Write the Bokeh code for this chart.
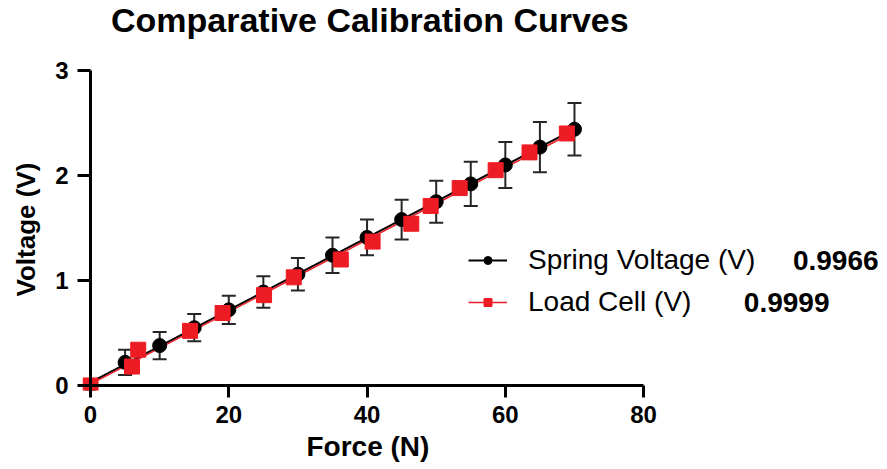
import numpy as np
from bokeh.plotting import figure
from bokeh.models import (Range1d, FixedTicker, ColumnDataSource, Whisker, TeeHead,
                          Legend, LegendItem, Label, LinearAxis, Title)
from bokeh.embed import file_html
from bokeh.resources import INLINE

# ---- data ----
title_text = "Comparative Calibration Curves"
x_label = "Force (N)"
y_label = "Voltage (V)"
x_ticks = [0, 20, 40, 60, 80]
y_ticks = [0, 1, 2, 3]

spring_name = "Spring Voltage (V)"
spring_x = [0, 5, 10, 15, 20, 25, 30, 35, 40, 45, 50, 55, 60, 65, 70]
spring_y = [0, 0.22, 0.38, 0.55, 0.72, 0.89, 1.06, 1.24, 1.41, 1.58, 1.75, 1.92, 2.10, 2.27, 2.44]
spring_err = [0, 0.12, 0.13, 0.13, 0.135, 0.15, 0.155, 0.17, 0.17, 0.19, 0.20, 0.21, 0.22, 0.24, 0.25]

load_name = "Load Cell (V)"
load_x = [0, 6.0, 6.9, 14.4, 19.1, 25.1, 29.4, 36.2, 40.8, 46.4, 49.2, 53.4, 58.6, 63.5, 68.9]
load_y = [0, 0.18, 0.34, 0.52, 0.69, 0.86, 1.03, 1.20, 1.37, 1.54, 1.71, 1.88, 2.05, 2.22, 2.40]

r2_values = ["0.9966", "0.9999"]

FONT = "Liberation Sans"
BLACK = "#000000"
RED = "#ED1C24"
ERR = "#262626"

p = figure(frame_width=801, frame_height=385,
           x_range=Range1d(-1.16, 114.7), y_range=Range1d(-0.048, 3.619),
           output_backend="svg", toolbar_location=None,
           min_border_left=82, min_border_right=4, min_border_top=5,
           min_border_bottom=0)
p.outline_line_color = None
p.grid.visible = False
p.background_fill_color = "white"

# main axes: ticks and tick labels (lines drawn by the crossing axes)
for ax in (p.xaxis[0], p.yaxis[0]):
    ax.axis_line_color = None
    ax.major_tick_line_width = 3
    ax.major_tick_line_color = BLACK
    ax.minor_tick_line_color = None
    ax.major_label_text_font = FONT
    ax.major_label_text_font_style = "bold"
    ax.major_label_text_font_size = "24px"
    ax.major_label_text_color = BLACK

p.xaxis[0].ticker = FixedTicker(ticks=x_ticks)
p.yaxis[0].ticker = FixedTicker(ticks=y_ticks)
p.xaxis[0].major_tick_in = 5
p.xaxis[0].major_tick_out = 7
p.yaxis[0].major_tick_in = 8
p.yaxis[0].major_tick_out = 5
p.xaxis[0].major_label_standoff = 8
p.yaxis[0].major_label_standoff = 9

# axis lines crossing at the origin
for side, bnds in (("below", (x_ticks[0], x_ticks[-1])), ("left", (y_ticks[0], y_ticks[-1]))):
    cross = LinearAxis(fixed_location=0, bounds=bnds, ticker=FixedTicker(ticks=[]),
                       axis_line_width=3, axis_line_color=BLACK,
                       major_tick_in=0, major_tick_out=0,
                       minor_tick_in=0, minor_tick_out=0,
                       major_tick_line_color=None, minor_tick_line_color=None,
                       major_label_standoff=0, axis_label_standoff=0)
    p.add_layout(cross, side)

# axis titles, centred under / beside the 0-80 and 0-3 spans
p.add_layout(Title(text=x_label, align="left", offset=224, vertical_align="bottom",
                   standoff=6, text_font=FONT, text_font_style="bold",
                   text_font_size="28px", text_color=BLACK), "below")
p.add_layout(Title(text=y_label, align="left", offset=94, vertical_align="top",
                   standoff=19, text_font=FONT, text_font_style="bold",
                   text_font_size="26px", text_color=BLACK), "left")

# error bars (spring)
sx = np.array(spring_x, dtype=float)
sy = np.array(spring_y, dtype=float)
se = np.array(spring_err, dtype=float)
mask = se > 0
err_src = ColumnDataSource(dict(x=sx[mask], upper=(sy + se)[mask], lower=(sy - se)[mask]))
whisk = Whisker(base="x", upper="upper", lower="lower", source=err_src,
                line_color=ERR, line_width=2,
                upper_head=TeeHead(size=14, line_width=2, line_color=ERR),
                lower_head=TeeHead(size=14, line_width=2, line_color=ERR))
p.add_layout(whisk)

# linear fits
lx = np.array(load_x, dtype=float)
ly = np.array(load_y, dtype=float)
s_coef = np.polyfit(sx, sy, 1)
l_coef = np.polyfit(lx, ly, 1)
s_fx = np.array([sx.min(), sx.max()])
l_fx = np.array([lx.min(), lx.max()])

s_line = p.line(s_fx, np.polyval(s_coef, s_fx), line_color=BLACK, line_width=2)
l_line = p.line(l_fx, np.polyval(l_coef, l_fx), line_color=RED, line_width=1.5)

s_pts = p.scatter(sx, sy, marker="circle", size=14, fill_color=BLACK, line_color=BLACK)
l_pts = p.scatter(lx, ly, marker="square", size=15, fill_color=RED, line_color=RED)

legend = Legend(items=[LegendItem(label=spring_name, renderers=[s_line, s_pts]),
                       LegendItem(label=load_name, renderers=[l_line, l_pts])],
                location=(386, 67), orientation="vertical",
                padding=0, margin=0, spacing=0,
                border_line_color=None, background_fill_alpha=0,
                glyph_width=39, glyph_height=20, label_height=42,
                label_standoff=21,
                label_text_font=FONT, label_text_font_size="28px",
                label_text_color=BLACK)
p.add_layout(legend, "center")

r2_x = [101.6, 94.5]
r2_y = [1.19, 0.79]
for i, r2 in enumerate(r2_values):
    p.add_layout(Label(x=r2_x[i], y=r2_y[i], text=r2,
                       text_font=FONT, text_font_style="bold", text_font_size="28px",
                       text_color=BLACK, text_baseline="middle", text_align="left"))

# chart title
p.add_layout(Label(x=40.4, y=3.481, text=title_text,
                   text_font=FONT, text_font_style="bold", text_font_size="34px",
                   text_color=BLACK, text_baseline="middle", text_align="center"))

open("out.html", "w").write(file_html(p, INLINE))
